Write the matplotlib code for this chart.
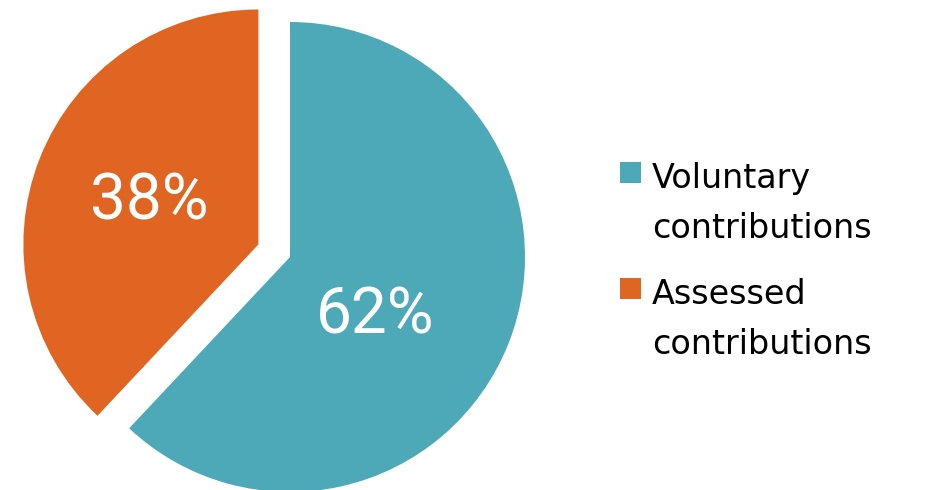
import matplotlib
matplotlib.use("Agg")
import matplotlib.pyplot as plt

labels = ["Voluntary\ncontributions", "Assessed\ncontributions"]
shares = [62, 38]
colors = ["#4DA9B8", "#E06522"]
explode_px = [0, 34]

plt.rcParams['font.family'] = ['DejaVu Sans']

fig = plt.figure(figsize=(9.3, 4.9), dpi=100)
ax = fig.add_axes([0, 0, 1, 1])
R = 235

wedges, texts, autotexts = ax.pie(
    shares, colors=colors, explode=explode_px, radius=R,
    startangle=90, counterclock=False,
    autopct='%d%%', pctdistance=0.5,
    textprops=dict(color='white', fontsize=46, family=['Roboto', 'DejaVu Sans']),
    wedgeprops=dict(linewidth=0))
# teal label sits lower in the reference
autotexts[0].set_position((85, -58))

ax.set_xlim(-290, 640)
ax.set_ylim(-233, 257)
ax.set_aspect('equal')
ax.axis('off')

leg = ax.legend(wedges, labels, loc='center left', bbox_to_anchor=(0.667, 0.467),
                frameon=False, fontsize=24, handlelength=0.62, handleheight=0.62,
                handletextpad=0.32, labelspacing=1.0, borderpad=0, borderaxespad=0)
for t in leg.get_texts():
    t.set_linespacing(1.65)
for col in leg._legend_handle_box.get_children():
    for row in col.get_children():
        row.align = 'top'

fig.savefig("out.png", dpi=100)
